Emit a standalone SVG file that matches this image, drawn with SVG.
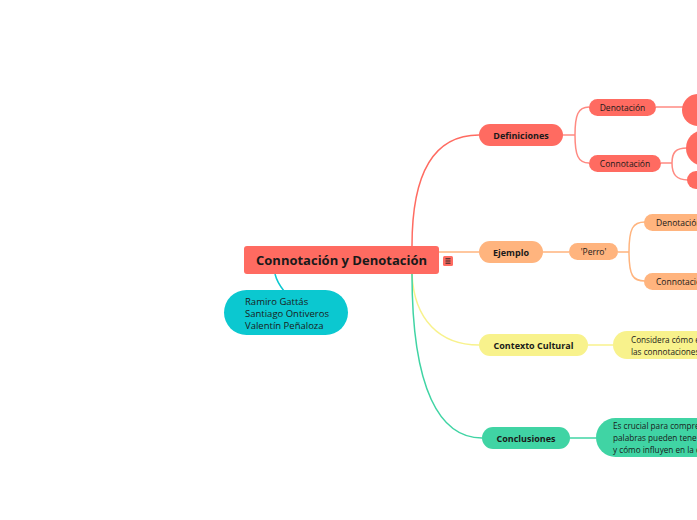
<svg xmlns="http://www.w3.org/2000/svg" width="697" height="520" viewBox="0 0 697 520">
<style>
text{font-family:"Open Sans","Noto Sans","Liberation Sans",sans-serif;fill:#1a1a1a}
.b{font-weight:bold}
.c{text-anchor:middle}
.l2{font-size:9px;font-weight:bold}
.l3{font-size:8.5px}
.l4{font-size:8.2px}
.ln{fill:none;stroke-width:1.5}
.red{fill:#FF6B61}.org{fill:#FFB47E}.yel{fill:#F8F28C}.grn{fill:#40D4A4}.teal{fill:#0BC8D0}
</style>
<rect width="697" height="520" fill="#ffffff"/>
<g id="connectors">
<path class="ln" stroke="#FF6B61" d="M412 246 C412 180 430 135 479 135"/>
<path class="ln" stroke="#FFB47E" d="M439 252 C455 252 465 252 479 252"/>
<path class="ln" stroke="#F8F28C" d="M412 274 C414 320 440 345 479 345"/>
<path class="ln" stroke="#40D4A4" d="M412 274 C412 390 440 438 482 438"/>
<path class="ln" stroke="#0BC8D0" d="M275 274 C277 282 280 286 284 291"/>
<path class="ln" stroke="#FF8A82" d="M563 135 L575 135 M575 135 C575 115 578 107 589 107 M575 135 C575 155 578 163 589 163"/>
<path class="ln" stroke="#FF8A82" d="M656 107 L683 107"/>
<path class="ln" stroke="#FF8A82" d="M661 163 L672 163 M672 163 C672 152 676 148 687 148 M672 163 C672 174 676 180 688 180"/>
<path class="ln" stroke="#FFB47E" d="M543 252 L569 252 M618 252 L629 252 M629 252 C629 228 633 222 645 222 M629 252 C629 276 633 281 645 281"/>
<path class="ln" stroke="#F8F28C" d="M588 345 L614 345"/>
<path class="ln" stroke="#40D4A4" d="M570 438 L597 438"/>
</g>
<g id="central">
<rect class="red" x="244" y="246" width="195" height="28" rx="3"/>
<text class="b c" x="341.5" y="265" font-size="13">Connotación y Denotación</text>
<rect class="red" x="443" y="256" width="10" height="10" rx="1.5"/>
<path d="M445.5 258.8h5M445.5 261h5M445.5 263.2h5" stroke="#222" stroke-width="1"/>
</g>
<g id="authors">
<rect class="teal" x="224" y="290" width="124" height="45" rx="22.5"/>
<text x="245" y="305" font-size="9.5">Ramiro Gattás</text>
<text x="245" y="317" font-size="9.5">Santiago Ontiveros</text>
<text x="245" y="329" font-size="9.5">Valentín Peñaloza</text>
</g>
<g id="definiciones">
<rect class="red" x="479" y="124" width="84" height="22" rx="11"/>
<text class="l2 c" x="521" y="138.5">Definiciones</text>
</g>
<g id="def-denotacion">
<rect class="red" x="589" y="99" width="67" height="17" rx="8.5"/>
<text class="l3 c" x="622.5" y="110.5">Denotación</text>
</g>
<g id="def-connotacion">
<rect class="red" x="589" y="155" width="72" height="17" rx="8.5"/>
<text class="l3 c" x="625" y="166.5">Connotación</text>
</g>
<g id="def-den-child">
<rect class="red" x="682" y="94" width="60" height="32" rx="16"/>
</g>
<g id="def-con-child1">
<rect class="red" x="686" y="130" width="60" height="36" rx="18"/>
</g>
<g id="def-con-child2">
<rect class="red" x="687" y="171" width="60" height="18" rx="9"/>
</g>
<g id="ejemplo">
<rect class="org" x="479" y="241" width="64" height="22" rx="11"/>
<text class="l2 c" x="511" y="255.5">Ejemplo</text>
</g>
<g id="perro">
<rect class="org" x="569" y="243" width="49" height="17" rx="8.5"/>
<text class="l3 c" x="593.5" y="254.5">'Perro'</text>
</g>
<g id="ej-denotacion">
<rect class="org" x="644" y="214" width="80" height="17" rx="8.5"/>
<text class="l3" x="656" y="225.5">Denotación</text>
</g>
<g id="ej-connotacion">
<rect class="org" x="644" y="273" width="80" height="17" rx="8.5"/>
<text class="l3" x="656" y="284.5">Connotación</text>
</g>
<g id="contexto">
<rect class="yel" x="479" y="334" width="109" height="22" rx="11"/>
<text class="l2 c" x="533.5" y="348.5">Contexto Cultural</text>
</g>
<g id="contexto-child">
<rect class="yel" x="613" y="331" width="120" height="28" rx="14"/>
<text class="l4" x="631" y="343">Considera cómo e</text>
<text class="l4" x="631" y="355">las connotaciones</text>
</g>
<g id="conclusiones">
<rect class="grn" x="482" y="427" width="88" height="22" rx="11"/>
<text class="l2 c" x="526" y="441.5">Conclusiones</text>
</g>
<g id="conclusiones-child">
<rect class="grn" x="596" y="418" width="140" height="39" rx="19.5"/>
<text class="l4" x="613" y="429">Es crucial para compre</text>
<text class="l4" x="613" y="441">palabras pueden tene</text>
<text class="l4" x="613" y="453">y cómo influyen en la c</text>
</g>
</svg>
